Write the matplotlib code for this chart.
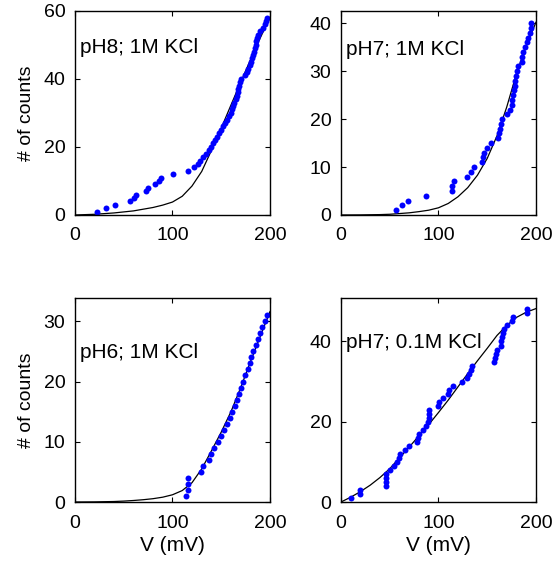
import numpy as np
import matplotlib.pyplot as plt

plt.rcParams['font.family'] = ['Liberation Sans', 'DejaVu Sans']

# cumulative event counts vs voltage (mV), one dot per event
counts_ph8 = np.arange(1, 59)
v_ph8 = [23, 32, 41, 56, 61, 63, 73, 75, 82, 86, 88, 101, 116, 122, 126, 128,
         131, 134, 137, 140, 142, 144, 146, 148, 150, 152, 154, 156, 158, 160,
         161, 162, 163.5, 165, 166, 167, 167.5, 168, 169, 170, 174, 176.5,
         177.5, 179, 181, 182, 183, 184, 185, 185.5, 186, 187, 188, 190, 192.5,
         195, 196, 197]

counts_ph7 = np.arange(1, 41)
v_ph7 = [56, 63, 69, 87, 114, 114, 116, 129, 133, 136.4, 145, 145.5, 146.5,
         150, 153.5, 160.7, 162.5, 163.5, 164.5, 165.5, 170, 173.6, 175, 175.8,
         176.8, 177.4, 178, 179, 180, 181, 181.7, 185.6, 186, 186.3, 188.7,
         191, 192, 193.5, 194.5, 195]

counts_ph6 = np.arange(1, 32)
v_ph6 = [113.8, 115.5, 115.5, 115.5, 129.5, 131, 137, 140, 143, 147, 150, 153,
         156, 159, 161, 164, 166, 168, 170, 172, 174, 177, 179, 181, 183, 186,
         188, 190, 192, 195, 197]

counts_low = np.arange(1, 49)
v_low = [10.3, 19.5, 19.8, 46, 46, 46, 46, 50, 54.7, 57, 60, 60.5, 66, 70, 78,
         78.7, 79.7, 84.4, 87.2, 89.6, 90, 90, 90, 99.8, 100.3, 105, 110, 110.5,
         115, 124.4, 128.9, 131.6, 133.3, 134.7, 157.2, 157.9, 158.6, 159.7,
         164, 164.4, 165.5, 166.5, 167.2, 170, 175, 176.7, 190.5, 190.5]

# fitted curves
v_fit = np.arange(0, 201, 10)
fit_ph8 = [0, 0.1, 0.2, 0.4, 0.6, 0.9, 1.2, 1.7, 2.2, 2.9, 3.8, 5.5, 8.5,
           12.8, 19.0, 25.5, 32.3, 39.0, 45.6, 52.0, 58.0]
fit_ph7 = [0, 0.01, 0.02, 0.05, 0.08, 0.15, 0.3, 0.45, 0.7, 1.0, 1.5, 2.4, 3.8,
           5.7, 8.3, 11.8, 16.5, 22.5, 29.5, 35.3, 40.2]
fit_ph6 = [0, 0.01, 0.02, 0.05, 0.08, 0.15, 0.25, 0.38, 0.55, 0.8, 1.2, 1.9,
           3.2, 5.5, 8.5, 11.6, 15.0, 19.0, 23.3, 27.5, 31.6]
fit_low = [0, 1.2, 2.6, 4.2, 6.1, 8.3, 11.0, 13.7, 16.5, 19.3, 22.3, 25.4, 28.7,
           32.0, 35.2, 38.3, 41.5, 44.0, 46.0, 47.3, 48.2]

panels = [
    ('pH8; 1M KCl', v_ph8, counts_ph8, fit_ph8, 60, [0, 20, 40, 60], 0.82),
    ('pH7; 1M KCl', v_ph7, counts_ph7, fit_ph7, 42.6, [0, 10, 20, 30, 40], 0.81),
    ('pH6; 1M KCl', v_ph6, counts_ph6, fit_ph6, 33.9, [0, 10, 20, 30], 0.73),
    ('pH7; 0.1M KCl', v_low, counts_low, fit_low, 50.9, [0, 20, 40], 0.78),
]

fig = plt.figure(figsize=(5.53, 5.65), dpi=100)
lefts = [0.1356, 0.6166]
bottoms = [0.6195, 0.1115]
w, h = 0.3526, 0.3615

for i, (label, v, n, fit, ymax, yt, ty) in enumerate(panels):
    ax = fig.add_axes([lefts[i % 2], bottoms[i // 2], w, h])
    ax.plot(v_fit, fit, color='black', lw=0.9)
    ax.plot(v, n, 'o', color='blue', ms=4.3, mew=0)
    ax.set_xlim(0, 200)
    ax.set_ylim(0, ymax)
    ax.set_xticks([0, 100, 200])
    ax.set_yticks(yt)
    ax.tick_params(direction='in', top=True, right=True, length=3.5,
                   width=0.8, labelsize=14)
    ax.tick_params(axis='x', pad=9)
    ax.tick_params(axis='y', pad=7)
    for s in ax.spines.values():
        s.set_linewidth(1.0)
    ax.text(0.028, ty, label, transform=ax.transAxes, fontsize=15,
            va='center', ha='left')
    if i % 2 == 0:
        ax.set_ylabel('# of counts', fontsize=14, labelpad=6)
    if i // 2 == 1:
        ax.set_xlabel('V (mV)', fontsize=15, labelpad=3)

fig.savefig('out.png', dpi=100)
